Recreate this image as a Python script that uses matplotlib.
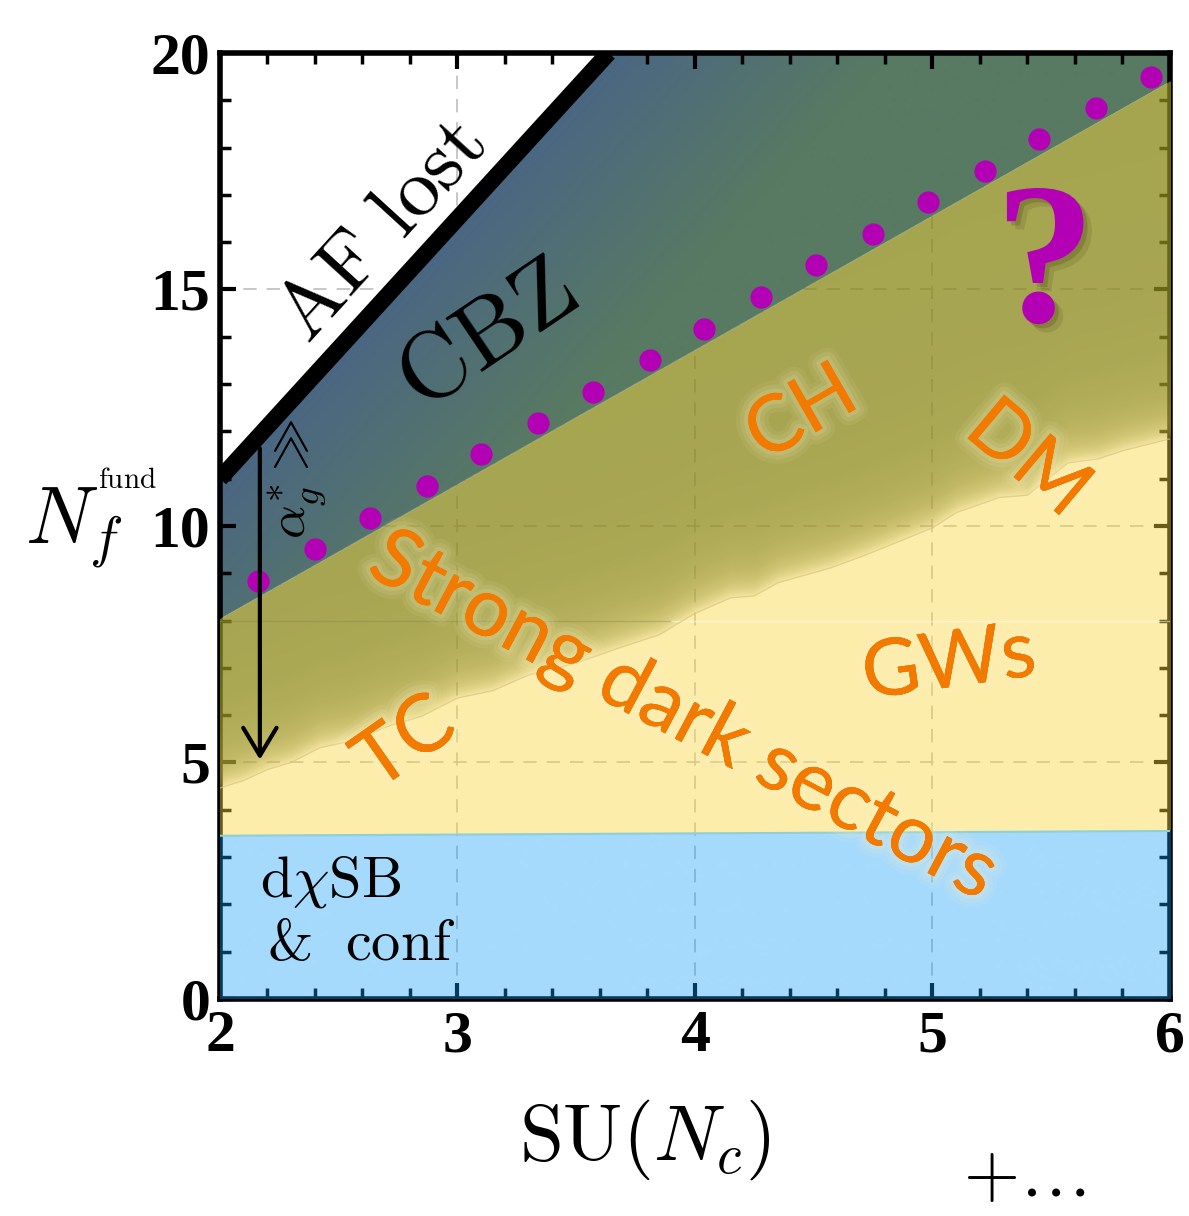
import numpy as np
import matplotlib.pyplot as plt
from matplotlib import patheffects as pe
from matplotlib.ticker import MultipleLocator

plt.rcParams['mathtext.fontset'] = 'cm'

# plot window
nc_lim = (2, 6)
nf_lim = (0, 20)

# loss of asymptotic freedom, Nf = 11/2 Nc
af_slope = 5.5

# lower edge of the CBZ band
cbz_nc = [2.0, 6.0]
cbz_nf = [8.03, 19.39]

# onset of the strongly coupled regime (ragged edge)
edge_nc = [2.0, 2.1, 2.2, 2.3, 2.42, 2.55, 2.7, 2.85, 3.0, 3.15, 3.3, 3.5, 3.68,
           3.85, 4.0, 4.15, 4.25, 4.35, 4.57, 4.7, 4.8, 5.0, 5.1, 5.28, 5.4,
           5.57, 5.7, 5.8, 6.0]
edge_nf = [4.46, 4.62, 4.85, 5.0, 5.31, 5.45, 5.75, 5.98, 6.36, 6.52, 6.85, 7.1, 7.42,
           7.7, 8.15, 8.48, 8.52, 8.8, 9.11, 9.35, 9.55, 9.96, 10.28, 10.6, 10.65,
           11.33, 11.42, 11.59, 11.84]

# chiral symmetry breaking & confinement
conf_nc = [2.0, 6.0]
conf_nf = [3.45, 3.55]

# magenta estimates
dot_nc = [2.16, 2.40, 2.63, 2.87, 3.10, 3.34, 3.57, 3.81, 4.04, 4.28, 4.51, 4.75, 4.98, 5.22, 5.45, 5.69, 5.92]
dot_nf = [8.84, 9.51, 10.17, 10.84, 11.51, 12.17, 12.84, 13.51, 14.17, 14.84, 15.51, 16.17, 16.84, 17.51, 18.17, 18.84, 19.50]

x_ticks = [2, 3, 4, 5, 6]
y_ticks = [0, 5, 10, 15, 20]

fig = plt.figure(figsize=(11.89, 12.16), dpi=100)
ax = fig.add_axes([0.185, 0.1785, 0.799, 0.778])
ax.set_xlim(*nc_lim)
ax.set_ylim(*nf_lim)

# ---- region images -------------------------------------------------
W, H = 950, 946
sx = (nc_lim[1] - nc_lim[0]) / W
sy = (nf_lim[1] - nf_lim[0]) / H
X, Y = np.meshgrid(np.linspace(nc_lim[0], nc_lim[1], W),
                   np.linspace(nf_lim[0], nf_lim[1], H))

def perp(k):
    return 1.0 / np.sqrt(1 + (k * sx / sy) ** 2)

def cover(d):
    return np.clip(d + 0.5, 0, 1)

af = af_slope * X
d_af = (Y - af) / sy * perp(af_slope)
k_cbz = (cbz_nf[1] - cbz_nf[0]) / (cbz_nc[1] - cbz_nc[0])
d_cbz = (Y - np.interp(X, cbz_nc, cbz_nf)) / sy * perp(k_cbz)
d_edge = (Y - np.interp(X, edge_nc, edge_nf)) / sy * 0.93
d_conf = (Y - np.interp(X, conf_nc, conf_nf)) / sy

white = cover(d_af)
w_cbz = cover(d_cbz) * (1 - white)
below = 1 - cover(d_cbz)
w_olive = below * cover(d_edge)
rest = below * (1 - cover(d_edge))
w_yellow = rest * cover(d_conf)
w_blue = rest * (1 - cover(d_conf))

# CBZ band: bluish near the AF line, greener away from it
t = np.clip(-d_af / 210.0, 0, 1)[..., None]
c_near = np.array([74, 102, 132]) / 255
c_far = np.array([88, 122, 98]) / 255
cbz_img = np.zeros((H, W, 4))
cbz_img[..., :3] = c_near * (1 - t) + c_far * t
cbz_img[..., 3] = w_cbz
ax.imshow(cbz_img, extent=[*nc_lim, *nf_lim], origin='lower', aspect='auto',
          interpolation='bilinear', zorder=1)

# olive / yellow / blue: translucent, laid over frame and grid
s = np.clip(d_edge, 0, None)
g1 = np.exp(-s / 42.0)[..., None]
g2 = np.exp(-s / 10.0)[..., None]
olive = np.array([166, 165, 80]) / 255
tan = np.array([214, 198, 114]) / 255
light = np.array([244, 230, 160]) / 255
c_olive = olive * (1 - 0.9 * g1) + tan * 0.9 * g1
c_olive = c_olive * (1 - g2) + light * g2
a_olive = 0.76 * (1 - g2[..., 0]) + 0.45 * g2[..., 0]

c_yellow = np.array([253, 238, 170]) / 255
a_yellow = 0.43
c_blue = np.array([165, 219, 252]) / 255
a_blue = 0.375

prem = (w_olive[..., None] * (c_olive - (1 - a_olive[..., None]))
        + w_yellow[..., None] * (c_yellow - (1 - a_yellow))
        + w_blue[..., None] * (c_blue - (1 - a_blue)))
A = w_olive * a_olive + w_yellow * a_yellow + w_blue * a_blue
top_img = np.zeros((H, W, 4))
top_img[..., :3] = np.clip(prem / np.maximum(A, 1e-6)[..., None], 0, 1)
top_img[..., 3] = A
ax.imshow(top_img, extent=[*nc_lim, *nf_lim], origin='lower', aspect='auto',
          interpolation='bilinear', zorder=3)
ax.set_xlim(*nc_lim)
ax.set_ylim(*nf_lim)

# thin seams
ax.plot(edge_nc, edge_nf, color='#d9c57e', lw=1, alpha=0.7, zorder=3.2)
ax.plot(conf_nc, conf_nf, color='#8fcfd6', lw=1.5, zorder=3.1)
ax.plot([2, 3.9], [8, 8], color='#7d8650', lw=1, alpha=0.35, zorder=3.1)
ax.plot([3.9, 6], [8, 8], color='white', lw=1, alpha=0.5, zorder=3.1)

# dashed grid
for xv in [3, 4, 5]:
    ax.axvline(xv, color='#bdbdbd', lw=1.2, ls=(0, (8, 6)), zorder=0.5)
for yv in [5, 10, 15]:
    ax.axhline(yv, color='#bdbdbd', lw=1.2, ls=(0, (8, 6)), zorder=0.5)

# AF bound
af_nc = np.array([2.0, 20 / af_slope])
ax.plot(af_nc, af_slope * af_nc, color='k', lw=12, solid_capstyle='butt', zorder=5)

# estimates
ax.plot(dot_nc, dot_nf, 'o', color='#b400b4', ms=16, mec='none', zorder=5)

# arrow
ax.annotate('', xy=(2.168, 5.0), xytext=(2.168, 11.7),
            arrowprops=dict(arrowstyle='->,head_length=0.5,head_width=0.3',
                            lw=3, color='k', mutation_scale=40), zorder=6)
ax.text(0.081, 0.55, r'$\alpha_g^{*}\gg$', transform=ax.transAxes, rotation=90,
        ha='center', va='center', fontsize=38, zorder=6)

# labels inside
af_rot = ax.transData.transform_angles(np.array([np.degrees(np.arctan(af_slope))]),
                                       np.array([[2.5, 15.0]]))[0]
ax.text(2.678, 16.25, r'$\mathrm{AF\ lost}$', rotation=af_rot, ha='center', va='center',
        fontsize=60, zorder=6)
ax.text(3.124, 14.0, r'$\mathrm{CBZ}$', rotation=34, ha='center', va='center',
        fontsize=69, zorder=6)

glow = [pe.withStroke(linewidth=18, foreground='#fff6c8', alpha=0.07),
        pe.withStroke(linewidth=12, foreground='#fff6c8', alpha=0.1),
        pe.withStroke(linewidth=6, foreground='#fff6c8', alpha=0.13),
        pe.Normal()]
orange = '#f27a00'
lab_kw = dict(color=orange, family='Lato', ha='center', va='center', zorder=6,
              path_effects=glow)
ax.text(3.95, 5.94, 'Strong dark sectors', rotation=-28, fontsize=59, **lab_kw)
ax.text(4.45, 12.35, 'CH', rotation=30, fontsize=57, **lab_kw)
ax.text(5.40, 11.40, 'DM', rotation=-40, fontsize=57, **lab_kw)
ax.text(5.07, 7.06, 'GWs', rotation=8, fontsize=57, **lab_kw)
ax.text(2.78, 5.40, 'TC', rotation=35, fontsize=58, **lab_kw)

shadow = [pe.SimplePatchShadow(offset=(3, -3), shadow_rgbFace='#2a2a00', alpha=0.18),
          pe.SimplePatchShadow(offset=(6, -6), shadow_rgbFace='#2a2a00', alpha=0.12),
          pe.Normal()]
ax.text(5.474, 15.35, '?', color='#b400b4', family='Liberation Serif', fontweight='bold',
        fontsize=145, ha='center', va='center', zorder=6, path_effects=shadow)

ax.text(0.042, 0.108, r'$\mathrm{d}\chi\mathrm{SB}$', transform=ax.transAxes,
        ha='left', va='baseline', fontsize=42, zorder=6)
ax.text(0.05, 0.0412, '&', family='cmr10', transform=ax.transAxes,
        ha='left', va='baseline', fontsize=42, zorder=6)
ax.text(0.1316, 0.0412, r'$\mathrm{conf}$', transform=ax.transAxes,
        ha='left', va='baseline', fontsize=42, zorder=6)

# axis titles
ax.text(-0.2053, 0.482, r'$N_f$', transform=ax.transAxes, ha='left', va='baseline',
        fontsize=58)
ax.text(-0.128, 0.54, r'$\mathrm{fund}$', transform=ax.transAxes, ha='left',
        va='baseline', fontsize=21)
ax.text(0.447, -0.149, r'$\mathrm{SU}(N_c)$', transform=ax.transAxes, ha='center',
        va='center', fontsize=57)
ax.text(0.847, -0.188, r'$+\ldots$', transform=ax.transAxes, ha='center',
        va='center', fontsize=52)

# frame and ticks
ax.set_axisbelow(False)
for sp in ax.spines.values():
    sp.set_linewidth(4)
    sp.set_zorder(2.5)
ax.set_xticks(x_ticks)
ax.set_yticks(y_ticks)
ax.xaxis.set_minor_locator(MultipleLocator(0.2))
ax.yaxis.set_minor_locator(MultipleLocator(1))
ax.tick_params(which='both', direction='in', top=True, right=True)
ax.tick_params(which='major', length=11.5, width=3)
ax.tick_params(which='minor', length=8, width=2.5)
ax.tick_params(axis='x', pad=8)
ax.tick_params(axis='y', pad=7)
ax.set_xticklabels([str(v) for v in x_ticks], family='Liberation Serif',
                   fontweight='bold', fontsize=43)
ax.set_yticklabels([str(v) for v in y_ticks], family='Liberation Serif',
                   fontweight='bold', fontsize=43)

fig.savefig('out.png', dpi=100)
